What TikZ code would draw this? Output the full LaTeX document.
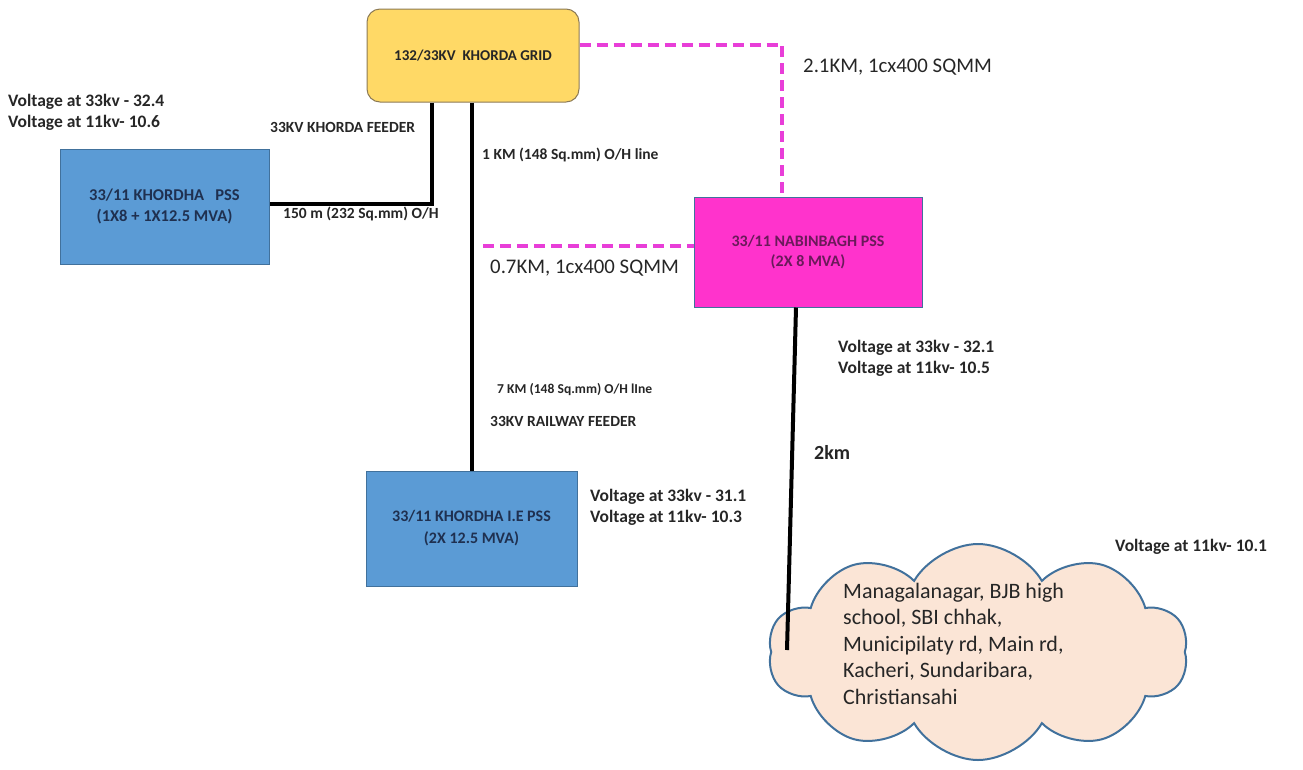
\documentclass[tikz,border=0pt]{standalone}
\usepackage{fontspec}
\setmainfont{Carlito}
\usetikzlibrary{shapes.symbols}
\definecolor{gridfill}{HTML}{FFD966}
\definecolor{gridborder}{HTML}{8C7A55}
\definecolor{pssblue}{HTML}{5B9BD5}
\definecolor{pssborder}{HTML}{41719C}
\definecolor{navy}{HTML}{1F3050}
\definecolor{nabfill}{HTML}{FF33CC}
\definecolor{nabtext}{HTML}{6A1A5A}
\definecolor{feedpink}{HTML}{E83ED8}
\definecolor{cloudfill}{HTML}{FBE5D6}
\definecolor{cloudborder}{HTML}{41719C}
\definecolor{txt}{HTML}{262626}
\newcommand{\fsz}[2]{\fontsize{#1}{#2}\selectfont}
\begin{document}
\begin{tikzpicture}[x=1pt,y=-1pt,
  pss/.style={draw=pssborder, line width=1pt, fill=pssblue, text=navy, align=center, inner sep=0pt},
  gridbox/.style={draw=gridborder, line width=1pt, fill=gridfill, rounded corners=13pt, text=txt, align=center, inner sep=0pt},
  nabbox/.style={draw=pssborder, line width=1pt, fill=nabfill, text=nabtext, align=center, inner sep=0pt},
  feeder/.style={line width=4pt, black},
  link/.style={line width=4pt, feedpink, dash pattern=on 11pt off 6pt},
  small/.style={anchor=west, inner sep=0pt, text=txt},
  plain/.style={anchor=west, inner sep=0pt, text=txt, font=\fsz{20.8}{24}},
  volt/.style={anchor=base west, inner sep=0pt, text=txt, font=\bfseries\fsz{17.5}{21}},
  cloudbox/.style={shape=cloud, cloud puffs=10, cloud puff arc=120, draw=cloudborder, line width=2pt, fill=cloudfill, inner sep=0pt}
]
\useasboundingbox (0,0) rectangle (1303,769);

% cloud
\node[cloudbox, minimum width=420pt, minimum height=216pt] (cloud) at (978,652) {};
\node[anchor=north west, inner sep=0pt, text=txt, align=left, font=\fsz{22}{26.5}] (cloudtxt) at (843,583)
  {Managalanagar, BJB high\\school, SBI chhak,\\Municipilaty rd, Main rd,\\Kacheri, Sundaribara,\\Christiansahi};

% boxes
\node[gridbox, font=\bfseries\fsz{15}{19}, minimum width=212pt, minimum height=93pt] (grid) at (473,55.5) {132/33KV\ \ KHORDA GRID};
\node[pss, font=\bfseries\fsz{16.5}{20.5}, minimum width=209pt, minimum height=115pt] (khordha) at (164.5,206.5) {33/11 KHORDHA\ \ \ PSS\\(1X8 + 1X12.5 MVA)};
\node[pss, font=\bfseries\fsz{16}{22}, minimum width=211pt, minimum height=115pt] (ie) at (471.5,528.5) {33/11 KHORDHA I.E PSS\\(2X 12.5 MVA)};
\node[nabbox, font=\bfseries\fsz{16}{19.5}, minimum width=228pt, minimum height=110pt] (nab) at (808,252) {33/11 NABINBAGH PSS\\(2X 8 MVA)};

% connectors
\draw[feeder] ([xshift=-41pt]grid.south) |- ([yshift=3pt]khordha.east);
\draw[feeder] (grid.south -| ie.north) -- (ie.north);
\draw[link] ([yshift=11pt]grid.east) -| ([xshift=-26pt]nab.north);
\coordinate (d0) at (483,246);
\draw[link] (d0) -- (d0 -| nab.west);
\coordinate (cloudend) at (787,650);
\draw[feeder] ([xshift=-12pt]nab.south) -- (cloudend);

% labels
\node[volt] (v1a) at (8,106) {Voltage at 33kv - 32.4};
\node[volt] (v1b) at (8,127) {Voltage at 11kv- 10.6};
\node[small, font=\bfseries\fsz{15.5}{18}] (l1) at (270,127) {33KV KHORDA FEEDER};
\node[small, font=\bfseries\fsz{15.5}{18}] (l2) at (283,214) {150 m (232 Sq.mm) O/H};
\node[small, font=\bfseries\fsz{15.5}{18}] (l3) at (482,155) {1 KM (148 Sq.mm) O/H line};
\node[plain] (l4) at (803,67) {2.1KM, 1cx400 SQMM};
\node[plain] (l5) at (490,268) {0.7KM, 1cx400 SQMM};
\node[volt] (v2a) at (838,352) {Voltage at 33kv - 32.1};
\node[volt] (v2b) at (838,373) {Voltage at 11kv- 10.5};
\node[small, font=\bfseries\fsz{13.6}{16}] (l6) at (497,390) {7 KM (148 Sq.mm) O/H lIne};
\node[small, font=\bfseries\fsz{15.5}{18}] (l7) at (490,421) {33KV RAILWAY FEEDER};
\node[volt] (v3a) at (590,501) {Voltage at 33kv - 31.1};
\node[volt] (v3b) at (590,522) {Voltage at 11kv- 10.3};
\node[anchor=west, inner sep=0pt, text=txt, font=\bfseries\fsz{20}{24}] (l8) at (814,452) {2km};
\node[volt] (v4) at (1115,551) {Voltage at 11kv- 10.1};
\end{tikzpicture}
\end{document}
